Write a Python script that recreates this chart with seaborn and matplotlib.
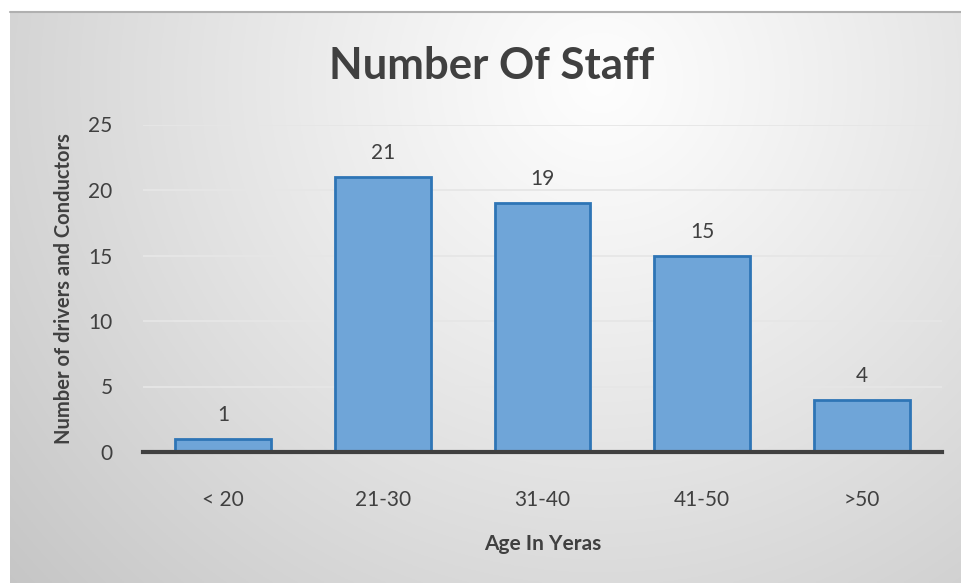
import numpy as np
import pandas as pd
import matplotlib
matplotlib.use("Agg")
import matplotlib.pyplot as plt
import seaborn as sns

categories = ["< 20", "21-30", "31-40", "41-50", ">50"]
staff_counts = [1, 21, 19, 15, 4]
y_ticks = [0, 5, 10, 15, 20, 25]

title = "Number Of Staff"
x_label = "Age In Yeras"
y_label = "Number of drivers and Conductors"

sns.set_theme(style="white")
plt.rcParams["font.family"] = ["Lato", "DejaVu Sans"]

W, H = 961, 583
fig = plt.figure(figsize=(W / 100, H / 100), dpi=100)
fig.patch.set_facecolor("white")

# background frame with radial gradient
bx0, by0 = 10 / W, 0.0
bw, bh = 1 - bx0, 1 - 12 / H
ax_bg = fig.add_axes([bx0, by0, bw, bh], zorder=-10)
ny, nx = 300, 500
yy, xx = np.mgrid[0:ny, 0:nx]
cx, cy = 0.62 * nx, 0.12 * ny
d = np.sqrt(((xx - cx) / nx) ** 2 + ((yy - cy) / ny * 0.62) ** 2)
d = d / d.max()
val = 0.995 - 0.22 * d ** 1.1
img = np.dstack([val, val, val])
ax_bg.imshow(img, aspect="auto", extent=[0, 1, 0, 1], origin="upper")
ax_bg.set_axis_off()
ax_bg.plot([0, 1], [1, 1], color="#b0b0b0", lw=1.5, transform=ax_bg.transAxes, clip_on=False)

ax = fig.add_axes([143 / W, 1 - 452 / H, 799 / W, (452 - 124.5) / H])
ax.set_facecolor("none")

df = pd.DataFrame({"age": categories, "count": staff_counts})
sns.barplot(data=df, x="age", y="count", ax=ax, color="#6fa5d8", saturation=1,
            width=0.6, edgecolor="#2e75b6", linewidth=2, zorder=3)

ax.set_ylim(0, 25)
ax.set_yticks(y_ticks)
ax.set_xlim(-0.5, len(categories) - 0.5)
ax.grid(axis="y", color="#e6e6e6", lw=1.3, zorder=0)
ax.set_axisbelow(True)
for s in ["top", "right", "left"]:
    ax.spines[s].set_visible(False)
ax.spines["bottom"].set_color("#404040")
ax.spines["bottom"].set_linewidth(3)
ax.spines["bottom"].set_zorder(5)
ax.tick_params(axis="both", length=0, labelsize=15, labelcolor="#404040")
ax.tick_params(axis="x", pad=27)
ax.tick_params(axis="y", pad=22)

for c in ax.containers:
    ax.bar_label(c, labels=[str(v) for v in staff_counts], padding=10,
                 fontsize=15, color="#404040")

ax.set_xlabel(x_label, fontsize=15, fontweight="bold", color="#404040", labelpad=18)
ax.set_ylabel(y_label, fontsize=14.5, fontweight="bold", color="#404040", labelpad=10)

fig.text(492 / W, 1 - 66 / H, title, ha="center", va="center",
         fontsize=31.5, fontweight="bold", color="#404040")

fig.savefig("out.png", dpi=100)
